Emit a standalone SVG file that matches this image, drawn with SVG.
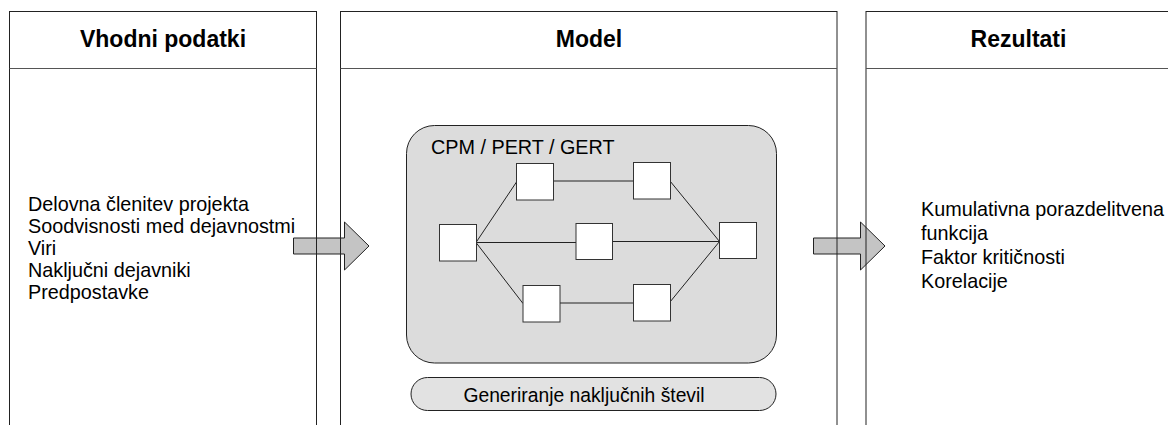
<svg xmlns="http://www.w3.org/2000/svg" width="1168" height="425" viewBox="0 0 1168 425">
  <style>
    .panel { fill: none; stroke: #222; stroke-width: 1; }
    .divider { stroke: #555; stroke-width: 1; }
    .title { font-family: "Liberation Sans", Arial, sans-serif; font-size: 23px; font-weight: bold; fill: #000; text-anchor: middle; }
    .body { font-family: "Liberation Sans", Arial, sans-serif; font-size: 19.8px; fill: #000; }
    .arrow { fill: #c4c4c4; stroke: #222; stroke-width: 1; }
    .node { fill: #fff; stroke: #333; stroke-width: 1; }
    .edge { stroke: #222; stroke-width: 1; fill: none; }
  </style>
  <rect width="1168" height="425" fill="#fff"/>

  <!-- flow arrows between the columns -->
  <g id="flow-arrows">
    <polygon class="arrow" points="293.5,238 344.5,238 344.5,222 369,246 344.5,270 344.5,254 293.5,254"/>
    <polygon class="arrow" points="813.5,238 860.5,238 860.5,222 885,246 860.5,270 860.5,254 813.5,254"/>
  </g>

  <!-- column: inputs -->
  <g id="col-inputs">
    <rect class="panel" x="9.5" y="11.5" width="307" height="430"/>
    <line class="divider" x1="9.5" y1="68.5" x2="316.5" y2="68.5"/>
    <text class="title" x="163" y="46.5">Vhodni podatki</text>
    <text class="body" x="28" y="210.5">Delovna členitev projekta</text>
    <text class="body" x="28" y="232.5">Soodvisnosti med dejavnostmi</text>
    <text class="body" x="28" y="254.5">Viri</text>
    <text class="body" x="28" y="276.5">Naključni dejavniki</text>
    <text class="body" x="28" y="298.5">Predpostavke</text>
  </g>

  <!-- column: model -->
  <g id="col-model">
    <rect class="panel" x="340.5" y="11.5" width="496.5" height="430"/>
    <line class="divider" x1="340.5" y1="68.5" x2="837" y2="68.5"/>
    <text class="title" x="589" y="46.5">Model</text>
  </g>

  <!-- network container -->
  <g id="network-box">
    <rect x="406.5" y="125.5" width="370" height="237.5" rx="28" ry="28" fill="#dcdcdc" stroke="#222" stroke-width="1"/>
    <text class="body" x="431" y="154">CPM / PERT / GERT</text>
  </g>

  <!-- network edges -->
  <g id="connectors">
    <line class="edge" x1="476" y1="242.5" x2="516.5" y2="182"/>
    <line class="edge" x1="476" y1="242.5" x2="576" y2="242.5"/>
    <line class="edge" x1="476" y1="242.5" x2="523" y2="303.5"/>
    <line class="edge" x1="553.5" y1="181" x2="633" y2="181"/>
    <line class="edge" x1="670" y1="181" x2="719.5" y2="241.5"/>
    <line class="edge" x1="612.5" y1="241.5" x2="719.5" y2="241.5"/>
    <line class="edge" x1="560" y1="303" x2="633" y2="303"/>
    <line class="edge" x1="670" y1="302" x2="719.5" y2="241.5"/>
  </g>

  <!-- network nodes -->
  <g id="node-start"><rect class="node" x="439.5" y="224.5" width="37" height="36.5"/></g>
  <g id="node-top-1"><rect class="node" x="516.5" y="163.5" width="37" height="36.5"/></g>
  <g id="node-top-2"><rect class="node" x="633.5" y="162.5" width="37" height="36.5"/></g>
  <g id="node-mid"><rect class="node" x="576" y="223.5" width="36.5" height="36"/></g>
  <g id="node-end"><rect class="node" x="719.5" y="222.5" width="37" height="36"/></g>
  <g id="node-bot-1"><rect class="node" x="523" y="285.5" width="37" height="36.5"/></g>
  <g id="node-bot-2"><rect class="node" x="633.5" y="284.5" width="37" height="36.5"/></g>

  <!-- random number generator -->
  <g id="rng">
    <rect x="411" y="377.5" width="365" height="33" rx="16.5" ry="16.5" fill="#e2e2e2" stroke="#222" stroke-width="1"/>
    <text class="body" x="584" y="401.5" text-anchor="middle" style="font-size:19.3px">Generiranje naključnih števil</text>
  </g>

  <!-- column: results -->
  <g id="col-results">
    <rect class="panel" x="866" y="11.5" width="320" height="430"/>
    <line class="divider" x1="866" y1="68.5" x2="1186" y2="68.5"/>
    <text class="title" x="1018.5" y="46.5">Rezultati</text>
    <text class="body" x="921" y="216">Kumulativna porazdelitvena</text>
    <text class="body" x="921" y="240">funkcija</text>
    <text class="body" x="921" y="264">Faktor kritičnosti</text>
    <text class="body" x="921" y="288">Korelacije</text>
  </g>
</svg>
